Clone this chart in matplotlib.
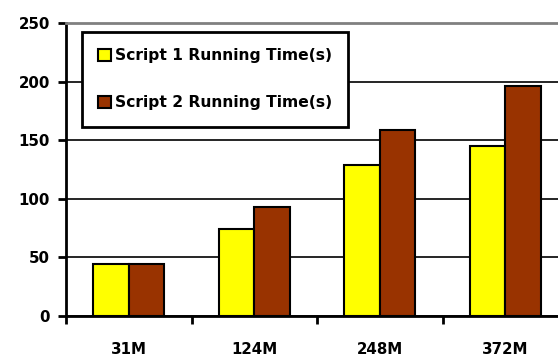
import numpy as np
import matplotlib
matplotlib.use("Agg")
import matplotlib.pyplot as plt
import matplotlib.ticker as ticker

sizes = ['31M', '124M', '248M', '372M']
script1 = [44, 74, 129, 145]
script2 = [44, 93, 159, 196]
series_names = ['Script 1 Running Time(s)', 'Script 2 Running Time(s)']

plt.rcParams['font.family'] = ['DejaVu Sans']
plt.rcParams['font.weight'] = 'bold'

fig = plt.figure(figsize=(5.58, 3.58), dpi=100)
ax = fig.add_axes([66 / 558, 42 / 358, 502 / 558, 293 / 358])

x = np.arange(len(sizes))
w = 0.283
ax.bar(x - w / 2, script1, w, color='#FFFF00', edgecolor='black', linewidth=1.5,
       label=series_names[0], zorder=3)
ax.bar(x + w / 2, script2, w, color='#993300', edgecolor='black', linewidth=1.5,
       label=series_names[1], zorder=3)

ax.set_xlim(-0.5, len(sizes) - 0.5)
ax.set_ylim(0, 250)
ax.yaxis.set_major_locator(ticker.MultipleLocator(50))

# tick marks on category boundaries, labels centred under the groups
ax.set_xticks(np.arange(len(sizes)) - 0.5)
ax.set_xticklabels([])
ax.set_xticks(x, minor=True)
ax.set_xticklabels(sizes, minor=True)
ax.tick_params(axis='x', which='major', length=6, width=2, direction='out')
ax.tick_params(axis='x', which='minor', length=0, pad=19, labelsize=10.8)
ax.tick_params(axis='y', length=6, width=2, direction='out', pad=5.5, labelsize=10.8)
for lab in ax.get_xticklabels(minor=True) + ax.get_yticklabels():
    lab.set_fontweight('bold')

ax.grid(axis='y', color='black', linewidth=1.2, zorder=0)
ax.set_axisbelow(True)
ax.spines['left'].set_linewidth(2)
ax.spines['bottom'].set_linewidth(2)
ax.spines['top'].set_color('#808080')
ax.spines['top'].set_linewidth(2)
ax.spines['right'].set_visible(False)

leg = ax.legend(loc='upper left', bbox_to_anchor=(82 / 558, 1 - 32 / 358),
                bbox_transform=fig.transFigure, borderaxespad=0, fancybox=False,
                edgecolor='black', framealpha=1, handlelength=0.8, handleheight=0.8,
                handletextpad=0.25, labelspacing=2.05, borderpad=1.05,
                prop={'size': 11.2, 'weight': 'bold'})
leg.get_frame().set_linewidth(2)

fig.savefig('out.png', dpi=100)
